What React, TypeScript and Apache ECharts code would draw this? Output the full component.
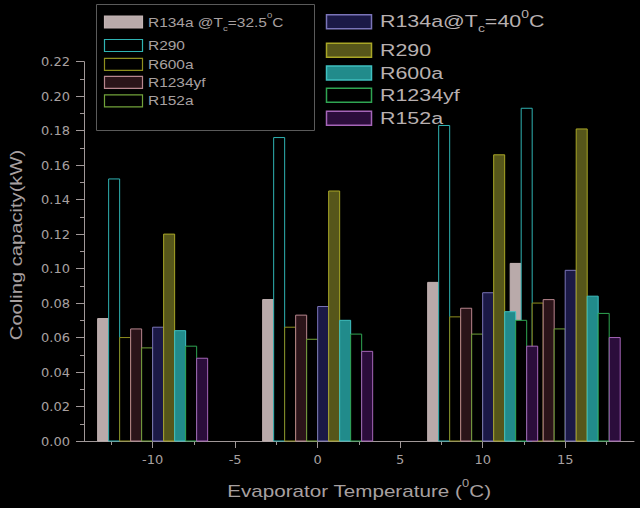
import React, { useEffect, useRef } from "react";
import * as echarts from "echarts";

// ---- data ----
const temps = [-10, 0, 10, 15];
const r134a_325 = [0.071, 0.082, 0.092, 0.103];
const r290_325 = [0.152, 0.176, 0.183, 0.193];
const r600a_325 = [0.060, 0.066, 0.072, 0.080];
const r1234yf_325 = [0.065, 0.073, 0.077, 0.082];
const r152a_325 = [0.054, 0.059, 0.062, 0.065];
const r134a_40 = [0.066, 0.078, 0.086, 0.099];
const r290_40 = [0.120, 0.145, 0.166, 0.181];
const r600a_40 = [0.064, 0.070, 0.075, 0.084];
const r1234yf_40 = [0.055, 0.062, 0.070, 0.074];
const r152a_40 = [0.048, 0.052, 0.055, 0.060];

const seriesNames = [
  "R134a @Tc=32.5°C", "R290", "R600a", "R1234yf", "R152a",
  "R134a@Tc=40°C", "R290 ", "R600a ", "R1234yf ", "R152a ",
];
const seriesValues = [
  r134a_325, r290_325, r600a_325, r1234yf_325, r152a_325,
  r134a_40, r290_40, r600a_40, r1234yf_40, r152a_40,
];
const majorTicks = [-10, -5, 0, 5, 10, 15];
const minorTicks = [-12.5, -7.5, -2.5, 2.5, 7.5, 12.5, 17.5];

// ---- styles ----
const styles = [
  { fill: "#b9aaaa", stroke: "#c4b4b4" },
  { fill: "#000000", stroke: "#2fb3b3" },
  { fill: "#000000", stroke: "#8f8f1e" },
  { fill: "#2b1419", stroke: "#b8868e" },
  { fill: "#000000", stroke: "#72a23a" },
  { fill: "#1b1946", stroke: "#7a74b8" },
  { fill: "#56561a", stroke: "#a8a626" },
  { fill: "#218b8b", stroke: "#3fc0c0" },
  { fill: "#000000", stroke: "#2fa552" },
  { fill: "#2b0d3b", stroke: "#a565b8" },
];
const BW = 2 / 3;
const TXT = "#a8a0a0";
const AX = "#a09898";
const FONT = "Liberation Sans";
const AXFONT = "DejaVu Sans";

function makeRender(idx: number) {
  return (params: any, api: any) => {
    const x = api.value(0);
    const y = api.value(1);
    const c = x + (idx - 4.5) * BW;
    const a = api.coord([c - BW / 2, y]);
    const b = api.coord([c + BW / 2, 0]);
    return {
      type: "rect",
      shape: { x: a[0], y: a[1], width: b[0] - a[0], height: b[1] - a[1] },
      style: { fill: styles[idx].fill, stroke: styles[idx].stroke, lineWidth: 1 },
    };
  };
}

function richLabel(main: string, sub: string, rest: string, size: number, color: string) {
  const small = Math.round(size * 0.65);
  return {
    text: `{m|${main}}{b|${sub}}{m|${rest}}{p|0}{m|C}`,
    rich: {
      m: { fontSize: size, fontFamily: FONT, fill: color, lineHeight: size + 8, verticalAlign: "middle" },
      b: { fontSize: small, fontFamily: FONT, fill: color, lineHeight: small, verticalAlign: "bottom" },
      p: { fontSize: small, fontFamily: FONT, fill: color, lineHeight: small, verticalAlign: "top" },
    },
  };
}

export default function App() {
  const ref = useRef<HTMLDivElement>(null);
  useEffect(() => {
    if (!ref.current) return;
    const chart = echarts.init(ref.current, null, { renderer: "svg" });

    const leftRows = [22, 45.5, 64.3, 82.3, 100.8];
    const rightRows = [21.7, 50.2, 73, 95.3, 118.3];
    const graphics: any[] = [
      { type: "rect", shape: { x: 96.5, y: 4.5, width: 218, height: 126 }, style: { fill: "none", stroke: "#5a5a5a", lineWidth: 1 } },
    ];
    for (let i = 0; i < 5; i++) {
      graphics.push({
        type: "rect",
        shape: { x: 104.5, y: leftRows[i] - 6, width: 38, height: 12 },
        style: { fill: styles[i].fill, stroke: styles[i].stroke, lineWidth: 1.2 },
      });
      const st: any = i === 0
        ? richLabel("R134a @T", "c", "=32.5", 13, TXT)
        : { text: seriesNames[i].trim(), fontSize: 13, fontFamily: FONT, fill: TXT };
      graphics.push({ type: "text", x: 148, y: leftRows[i], scaleX: 1.19, style: { ...st, verticalAlign: "middle" } });

      const j = i + 5;
      graphics.push({
        type: "rect",
        shape: { x: 326.5, y: rightRows[i] - 7, width: 45, height: 14 },
        style: { fill: styles[j].fill, stroke: styles[j].stroke, lineWidth: 1.5 },
      });
      const st2: any = i === 0
        ? richLabel("R134a@T", "c", "=40", 17, "#b8b0b0")
        : { text: seriesNames[j].trim(), fontSize: 17, fontFamily: FONT, fill: "#b8b0b0" };
      graphics.push({ type: "text", x: 380, y: rightRows[i], scaleX: 1.26, style: { ...st2, verticalAlign: "middle" } });
    }
    graphics.push({
      type: "text",
      x: 359,
      y: 491,
      scaleX: 1.29,
      style: { ...richLabel("Evaporator Temperature (", "", "", 16, TXT), text: "{m|Evaporator Temperature (}{p|0}{m|C)}", align: "center", verticalAlign: "middle" },
    });
    graphics.push({
      type: "text",
      x: 17,
      y: 245,
      rotation: Math.PI / 2,
      scaleX: 1.26,
      style: { text: "Cooling capacity(kW)", fontSize: 16, fontFamily: FONT, fill: TXT, align: "center", verticalAlign: "middle" },
    });

    const xMin = -14.16;
    const xMax = 19.17;
    chart.setOption({
      animation: false,
      backgroundColor: "#000000",
      grid: { left: 84, right: 6, top: 61.7, bottom: 67 },
      xAxis: [
        {
          type: "value",
          min: xMin,
          max: xMax,
          splitLine: { show: false },
          axisLine: { show: true, onZero: false, lineStyle: { color: AX, width: 1 } },
          axisTick: { show: true, customValues: majorTicks, length: 7, lineStyle: { color: AX } },
          axisLabel: { show: true, customValues: majorTicks, margin: 12, color: TXT, fontSize: 13, fontFamily: AXFONT },
        },
        {
          type: "value",
          min: xMin,
          max: xMax,
          position: "bottom",
          splitLine: { show: false },
          axisLine: { show: false, onZero: false },
          axisTick: { show: true, customValues: minorTicks, length: 4, lineStyle: { color: AX } },
          axisLabel: { show: false },
        },
      ],
      yAxis: {
        type: "value",
        min: 0,
        max: 0.22,
        interval: 0.02,
        splitLine: { show: false },
        axisLine: { show: true, onZero: false, lineStyle: { color: AX, width: 1 } },
        axisTick: { show: true, length: 8, lineStyle: { color: AX } },
        minorTick: { show: true, splitNumber: 2, length: 4, lineStyle: { color: AX } },
        axisLabel: { margin: 14, color: TXT, fontSize: 13, fontFamily: AXFONT, formatter: (v: number) => v.toFixed(2) },
      },
      graphic: graphics,
      series: seriesValues.map((vals, idx) => ({
        type: "custom",
        name: seriesNames[idx],
        xAxisIndex: 0,
        renderItem: makeRender(idx),
        encode: { x: 0, y: 1 },
        data: temps.map((t, k) => [t, vals[k]]),
      })),
    });
    return () => chart.dispose();
  }, []);
  return <div ref={ref} style={{ position: "fixed", left: 0, top: 0, width: 640, height: 508 }} />;
}
